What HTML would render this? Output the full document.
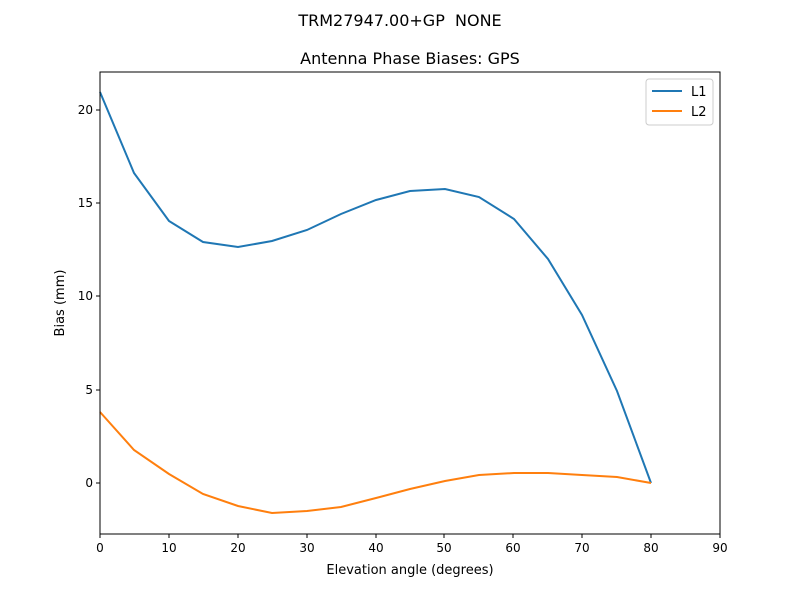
<!DOCTYPE html>
<html><head><meta charset="utf-8"><style>body{margin:0;background:#fff}</style></head><body>
<svg width="800" height="600" xmlns="http://www.w3.org/2000/svg" font-family="DejaVu Sans, Liberation Sans, sans-serif">
<rect width="800" height="600" fill="#fff"/>
<text x="400" y="26" text-anchor="middle" font-size="16" xml:space="preserve">TRM27947.00+GP  NONE</text>
<text x="410" y="64" text-anchor="middle" font-size="16">Antenna Phase Biases: GPS</text>
<g stroke="#000" stroke-width="1">
<line x1="100" y1="534" x2="100" y2="538"/><line x1="169" y1="534" x2="169" y2="538"/><line x1="238" y1="534" x2="238" y2="538"/><line x1="307" y1="534" x2="307" y2="538"/><line x1="376" y1="534" x2="376" y2="538"/><line x1="444" y1="534" x2="444" y2="538"/><line x1="513" y1="534" x2="513" y2="538"/><line x1="582" y1="534" x2="582" y2="538"/><line x1="651" y1="534" x2="651" y2="538"/><line x1="720" y1="534" x2="720" y2="538"/>
<line x1="96" y1="483" x2="100" y2="483"/><line x1="96" y1="390" x2="100" y2="390"/><line x1="96" y1="296" x2="100" y2="296"/><line x1="96" y1="203" x2="100" y2="203"/><line x1="96" y1="110" x2="100" y2="110"/>
</g>
<g font-size="12" text-anchor="middle">
<text x="100" y="552">0</text><text x="169" y="552">10</text><text x="238" y="552">20</text><text x="307" y="552">30</text><text x="376" y="552">40</text><text x="444" y="552">50</text><text x="513" y="552">60</text><text x="582" y="552">70</text><text x="651" y="552">80</text><text x="720" y="552">90</text>
</g>
<g font-size="12" text-anchor="end">
<text x="93" y="487">0</text><text x="93" y="394">5</text><text x="93" y="300">10</text><text x="93" y="207">15</text><text x="93" y="114">20</text>
</g>
<text x="410" y="574" text-anchor="middle" font-size="13">Elevation angle (degrees)</text>
<text transform="translate(64,303) rotate(-90)" text-anchor="middle" font-size="13">Bias (mm)</text>
<polyline fill="none" stroke="#1f77b4" stroke-width="2" points="100,92 134,173 169,221 203,242 238,247 272,241 307,230 341,214 376,200 410,191 445,189 479,197 514,219 548,259 582,315 617,391 651,483"/>
<polyline fill="none" stroke="#ff7f0e" stroke-width="2" points="100,412 134,450 169,474 203,494 238,506 272,513 307,511 341,507 376,498 410,489 445,481 479,475 514,473 548,473 582,475 617,477 651,483"/>
<rect x="100" y="72" width="620" height="462" fill="none" stroke="#000" stroke-width="1"/>
<rect x="646" y="79" width="67" height="46" rx="3" fill="#fff" stroke="#ccc"/>
<line x1="652" y1="91" x2="682" y2="91" stroke="#1f77b4" stroke-width="2"/>
<line x1="652" y1="111" x2="682" y2="111" stroke="#ff7f0e" stroke-width="2"/>
<text x="691" y="96" font-size="13">L1</text><text x="691" y="116" font-size="13">L2</text>
</svg>
</body></html>
